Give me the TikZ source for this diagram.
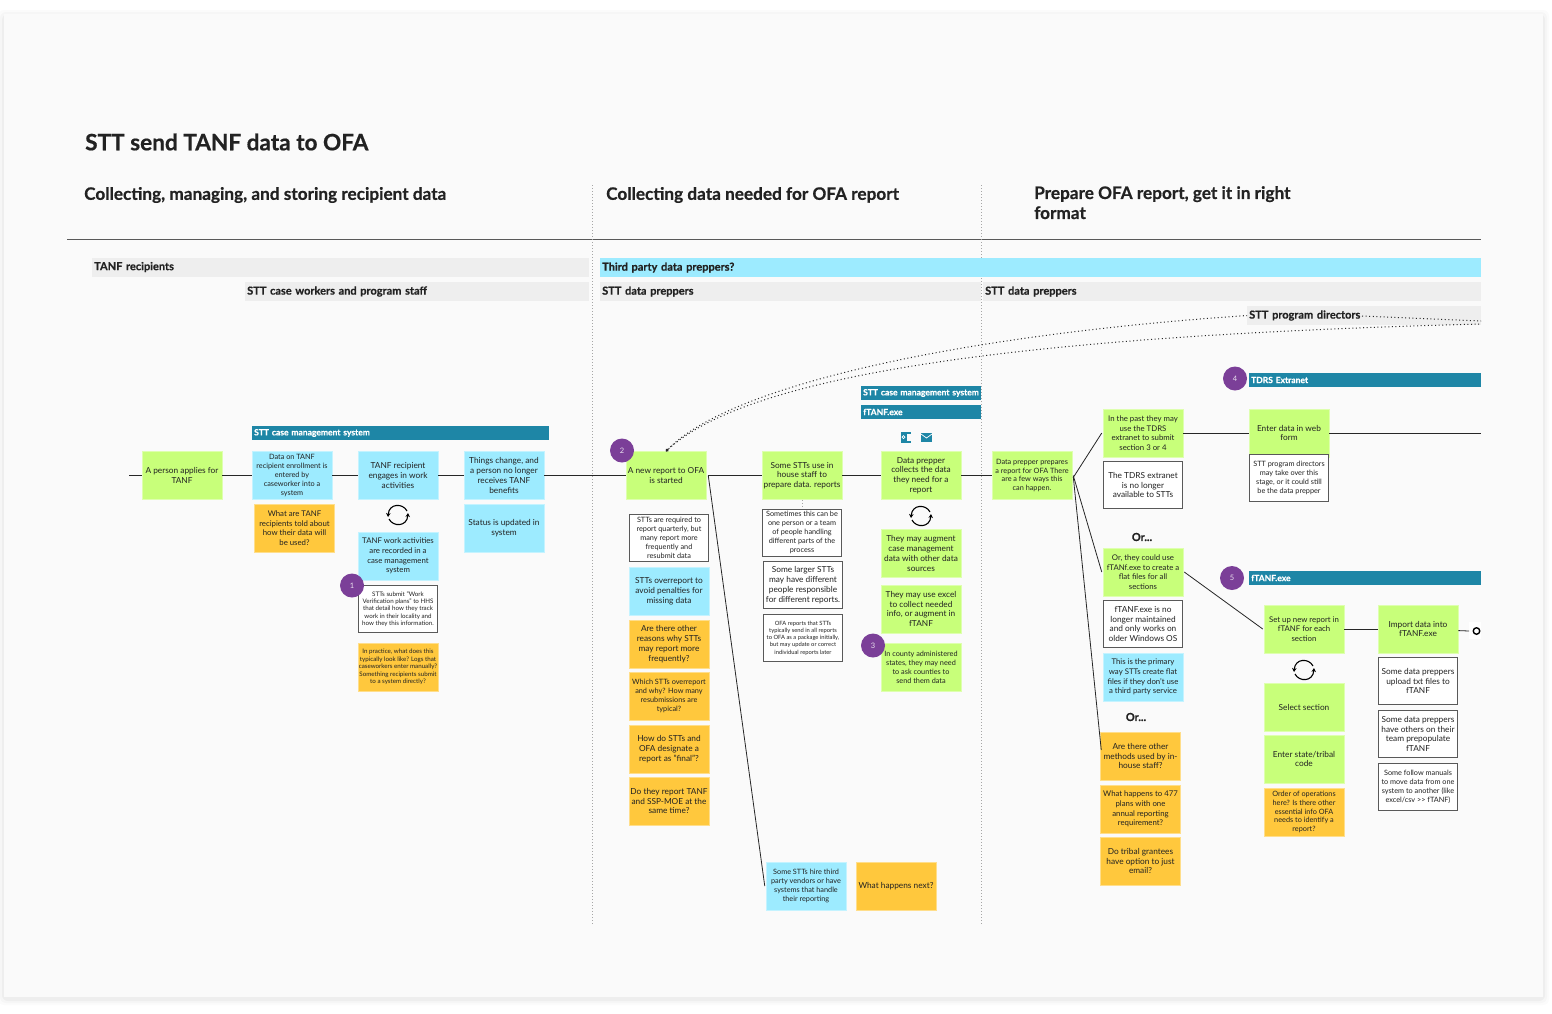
\documentclass[tikz,border=0pt]{standalone}
\usepackage{fontspec}
\setmainfont{Lato}[BoldFont={Lato Bold},BoldFeatures={FakeBold=0.6}]
\usetikzlibrary{arrows.meta}
\definecolor{cardbg}{HTML}{FAFAFA}
\definecolor{grn}{HTML}{C8FF7A}
\definecolor{blu}{HTML}{9DEBFF}
\definecolor{yel}{HTML}{FFC83D}
\definecolor{tealbar}{HTML}{1E86A6}
\definecolor{purp}{HTML}{7B3F98}
\definecolor{band}{HTML}{EEEEEE}
\definecolor{ink}{HTML}{222222}
\tikzset{
  card/.style={minimum width=80pt,minimum height=48pt,inner sep=0.5pt,align=center,text=ink,font=\fontsize{8.3}{9.8}\selectfont},
  gcard/.style={card,fill=grn,draw=grn!60!white,line width=.5pt},
  bcard/.style={card,fill=blu,draw=blu!60!white,line width=.5pt},
  ycard/.style={card,fill=yel,draw=yel!60!white,line width=.5pt},
  wcard/.style={card,fill=white,draw=black!65,line width=1pt,minimum width=79pt,minimum height=47pt},
  tiny/.style={font=\fontsize{6.2}{7.4}\selectfont},
  small/.style={font=\fontsize{7.3}{8.9}\selectfont},
  mid/.style={font=\fontsize{7.8}{9.6}\selectfont},
  bar/.style={anchor=west,fill=tealbar,text=white,font=\fontsize{8.5}{9}\bfseries\selectfont,minimum height=14pt,inner ysep=0pt,inner xsep=2pt,align=left},
  gband/.style={anchor=west,text=ink,font=\fontsize{11}{12}\bfseries\selectfont,minimum height=19pt,inner ysep=0pt,inner xsep=2pt,align=left},
  badge/.style={circle,fill=purp,text=white!85!purp,minimum size=24pt,inner sep=0pt,font=\fontsize{7.5}{8}\selectfont},
  flow/.style={draw=black!85,line width=.8pt},
  dots/.style={draw=black!85,line width=1pt,dash pattern=on 1pt off 2.6pt},
  head/.style={anchor=west,text=ink,font=\fontsize{17.2}{20}\bfseries\selectfont,align=left,inner sep=0pt},
  ortext/.style={text=ink,font=\fontsize{11}{12}\bfseries\selectfont,inner sep=0pt},
  divider/.style={draw=black!35,line width=.6pt,dash pattern=on 1pt off 2pt},
  loopicon/.pic={
    \draw[black,line width=1.1pt,-{Stealth[length=4pt,width=4.5pt]}] (9,-4) .. controls (5,-12) and (-9,-12) .. (-10,2);
    \draw[black,line width=1.1pt,-{Stealth[length=4pt,width=4.5pt]}] (-9,4) .. controls (-5,12) and (9,12) .. (10,-2);
  }
}
\begin{document}
\begin{tikzpicture}[x=1pt,y=-1pt]
\useasboundingbox (0,0) rectangle (1552,1013);
\fill[white] (0,0) rectangle (1552,1013);
% soft card shadow
\foreach \g/\o in {6/.015,4/.02,2/.03}{
  \fill[black,opacity=\o,rounded corners=6pt] (4-\g,14-\g+2) rectangle (1543+\g,997+\g+2);
}
\fill[cardbg] (4,14) rectangle (1543,997);

% headings
\node[anchor=west,inner sep=0pt,text=ink,font=\fontsize{22.6}{26}\bfseries\selectfont] (title) at (85,142) {STT send TANF data to OFA};
\node[head] (h1) at (84,195) {Collecting, managing, and storing recipient data};
\node[head] (h2) at (606,195) {Collecting data needed for OFA report};
\node[head,anchor=north west] (h3) at (1034,186) {Prepare OFA report, get it in right\\format};
\coordinate (ruleL) at (67,239);
\coordinate (ruleR) at (1481,239);
\draw[black!65,line width=.8pt] (ruleL) -- (ruleR);

% column dividers
\coordinate (d1t) at (592,185); \coordinate (d1b) at (592,925);
\coordinate (d2t) at (981,185); \coordinate (d2b) at (981,925);
\draw[divider] (d1t) -- (d1b);
\draw[divider] (d2t) -- (d2b);

% swimlane bands
\node[gband,fill=band,minimum width=497pt,text width=493pt] (r1) at (92,267) {TANF recipients};
\node[gband,fill=band,minimum width=344pt,text width=340pt] (r2) at (245,291.5) {STT case workers and program staff};
\node[gband,fill=blu,minimum width=881pt,text width=877pt] (r3) at (600,267.5) {Third party data preppers?};
\node[gband,fill=band,minimum width=381pt,text width=377pt] (r4) at (600,291.5) {STT data preppers};
\node[gband,fill=band,minimum width=498pt,text width=494pt] (r5) at (983,291.5) {STT data preppers};
\node[gband,fill=band,minimum width=234pt,text width=230pt] (r6) at (1247,315.5) {STT program directors};

% system bars
\node[bar,text width=293pt] (s1) at (252,433) {STT case management system};
\node[bar,text width=116pt] (s2) at (861,393) {STT case management system};
\node[bar,text width=116pt] (s3) at (861,412) {fTANF.exe};
\node[bar,text width=228pt] (s4) at (1249,380) {TDRS Extranet};
\node[bar,text width=228pt] (s5) at (1249,578) {fTANF.exe};

% column 1
\coordinate (start) at (129,475.5);
\node[gcard] (a1) at (182,475.5) {A person applies for\\TANF};
\node[bcard,small] (a2) at (292,475.5) {Data on TANF\\recipient enrollment is\\entered by\\caseworker into a\\system};
\node[bcard] (a3) at (398,475.5) {TANF recipient\\engages in work\\activities};
\node[bcard] (a4) at (504,475.5) {Things change, and\\a person no longer\\receives TANF\\benefits};
\node[ycard,mid] (a5) at (294.5,528) {What are TANF\\recipients told about\\how their data will\\be used?};
\node[bcard] (a6) at (504,528) {Status is updated in\\system};
\node[bcard,mid] (a7) at (398,556) {TANF work activities\\are recorded in a\\case management\\system};
\node[wcard,tiny] (a8) at (398,609) {STTs submit "Work\\Verification plans" to HHS\\that detail how they track\\work in their locality and\\how they this information.};
\node[ycard,tiny] (a9) at (398,667) {In practice, what does this\\typically look like? Logs that\\caseworkers enter manually?\\Something recipients submit\\to a system directly?};
\node[badge] (n1) at (352,585.5) {1};
\pic at (398,515) {loopicon};

% column 2
\node[gcard] (b1) at (666,475.5) {A new report to OFA\\is started};
\node[badge] (n2) at (622,450.5) {2};
\node[wcard,small] (b2) at (669,538) {STTs are required to\\report quarterly, but\\many report more\\frequently and\\resubmit data};
\node[bcard] (b3) at (669,591) {STTs overreport to\\avoid penalties for\\missing data};
\node[ycard] (b4) at (669,644) {Are there other\\reasons why STTs\\may report more\\frequently?};
\node[ycard,small] (b5) at (669,696) {Which STTs overreport\\and why? How many\\resubmissions are\\typical?};
\node[ycard] (b6) at (669,749) {How do STTs and\\OFA designate a\\report as "final"?};
\node[ycard] (b7) at (669,801) {Do they report TANF\\and SSP-MOE at the\\same time?};
\node[gcard] (c1) at (802,475.5) {Some STTs use in\\house staff to\\prepare data. reports};
\node[wcard,small] (c2) at (802,532.5) {Sometimes this can be\\one person or a team\\of people handling\\different parts of the\\process};
\node[wcard] (c3) at (803,585) {Some larger STTs\\may have different\\people responsible\\for different reports.};
\node[wcard,font=\fontsize{5.8}{7.3}\selectfont] (c4) at (803,638) {OFA reports that STTs\\typically send in all reports\\to OFA as a package initially,\\but may update or correct\\individual reports later};
\node[bcard,small] (c5) at (806,886) {Some STTs hire third\\party vendors or have\\systems that handle\\their reporting};
\node[ycard] (c6) at (896,886) {What happens next?};
\node[gcard] (e1) at (921,475.5) {Data prepper\\collects the data\\they need for a\\report};
\node[gcard] (e2) at (921,553.5) {They may augment\\case management\\data with other data\\sources};
\node[gcard] (e3) at (921,609) {They may use excel\\to collect needed\\info, or augment in\\fTANF};
\node[gcard,small] (e4) at (921,667) {In county administered\\states, they may need\\to ask counties to\\send them data};
\node[badge] (n3) at (873,645.5) {3};
\pic at (921,516) {loopicon};
% tool icons
\fill[tealbar] (901,432) rectangle (911,442.5);
\fill[cardbg] (906.5,434) rectangle (911,440.5);
\draw[white,line width=.7pt] (903.5,437.2) circle (1.5);
\fill[tealbar] (921,433) rectangle (932,441.5);
\draw[white,line width=.7pt] (921,434) -- (926.5,438) -- (932,434);

% column 3
\node[gcard,small] (f1) at (1032,475.5) {Data prepper prepares\\a report for OFA There\\are a few ways this\\can happen.};
\node[gcard,mid] (g1) at (1143,433) {In the past they may\\use the TDRS\\extranet to submit\\section 3 or 4};
\node[wcard] (g2) at (1143,485) {The TDRS extranet\\is no longer\\available to STTs};
\node[ortext] (or1) at (1142,537) {Or...};
\node[gcard,mid] (g3) at (1143,572) {Or, they could use\\fTANf.exe to create a\\flat files for all\\sections};
\node[wcard] (g4) at (1143,624) {fTANF.exe is no\\longer maintained\\and only works on\\older Windows OS};
\node[bcard,mid] (g5) at (1143,677) {This is the primary\\way STTs create flat\\files if they don't use\\a third party service};
\node[ortext] (or2) at (1136,717) {Or...};
\node[ycard] (g6) at (1140.5,756) {Are there other\\methods used by in-\\house staff?};
\node[ycard,mid] (g7) at (1140.5,809) {What happens to 477\\plans with one\\annual reporting\\requirement?};
\node[ycard] (g8) at (1140.5,861) {Do tribal grantees\\have option to just\\email?};
\node[gcard] (h1b) at (1289,433) {Enter data in web\\form};
\node[wcard,small] (h2b) at (1289,478) {STT program directors\\may take over this\\stage, or it could still\\be the data prepper};
\node[badge] (n4) at (1235,378.5) {4};
\node[badge] (n5) at (1232,578) {5};
\node[gcard,mid] (j1) at (1304,629) {Set up new report in\\fTANF for each\\section};
\node[gcard] (j2) at (1304,707) {Select section};
\node[gcard] (j3) at (1304,759) {Enter state/tribal\\code};
\node[ycard,small] (j4) at (1304,812) {Order of operations\\here? Is there other\\essential info OFA\\needs to identify a\\report?};
\pic at (1304,670) {loopicon};
\node[gcard] (k1) at (1418,629) {Import data into\\fTANF.exe};
\node[wcard] (k2) at (1418,681) {Some data preppers\\upload txt files to\\fTANF};
\node[wcard] (k3) at (1418,734) {Some data preppers\\have others on their\\team prepopulate\\fTANF};
\node[wcard,small] (k4) at (1418,787) {Some follow manuals\\to move data from one\\system to another (like\\excel/csv >{}> fTANF)};
\coordinate (edge1) at (1481,433);
\coordinate (endline) at (1469,631);
\fill[white] (1469,622) rectangle (1481,639);
\node[circle,draw=black,line width=1.4pt,minimum size=6.5pt,inner sep=0pt] (endc) at (1476.5,631) {};

% connectors
\draw[flow] (start) -- (a1);
\draw[flow] (a1) -- (a2);
\draw[flow] (a2) -- (a3);
\draw[flow] (a3) -- (a4);
\draw[flow] (a4) -- (b1);
\draw[flow] ([xshift=2pt]b1.east) -- (c1.west);
\draw[flow] (c1) -- (e1);
\draw[flow] (e1) -- (f1);
\draw[flow] ([xshift=2pt]b1.east) -- ([xshift=-1pt]c5.west);
\draw[flow] ([shift={(1pt,-2pt)}]f1.east) -- ([xshift=-1pt]g1.west);
\draw[flow] ([xshift=1pt]f1.east) -- ([xshift=-1pt]g3.west);
\draw[flow] ([shift={(1pt,-1pt)}]f1.east) -- ([shift={(1pt,6pt)}]g6.west);
\draw[flow] ([xshift=1pt]g3.east) -- ([xshift=-1pt]j1.west);
\draw[flow] (g1) -- (h1b);
\draw[flow] (h1b) -- (edge1);
\draw[flow] (j1) -- (k1);
\draw[flow] (k1) -- (endline);
\draw[divider] (c1.south) -- (c2.north);

% dotted curves
\coordinate (dirsOut) at (1362,316);
\coordinate (edge2) at (1481,321);
\coordinate (edge3) at (1481,324);
\draw[dots,{Circle[length=3pt]}-] (b1.north) .. controls (730,385) and (960,335) .. (r6.west);
\draw[dots] (b1.north) .. controls (750,370) and (1050,335) .. (edge3);
\draw[dots] (dirsOut) -- (edge2);
\end{tikzpicture}
\end{document}
